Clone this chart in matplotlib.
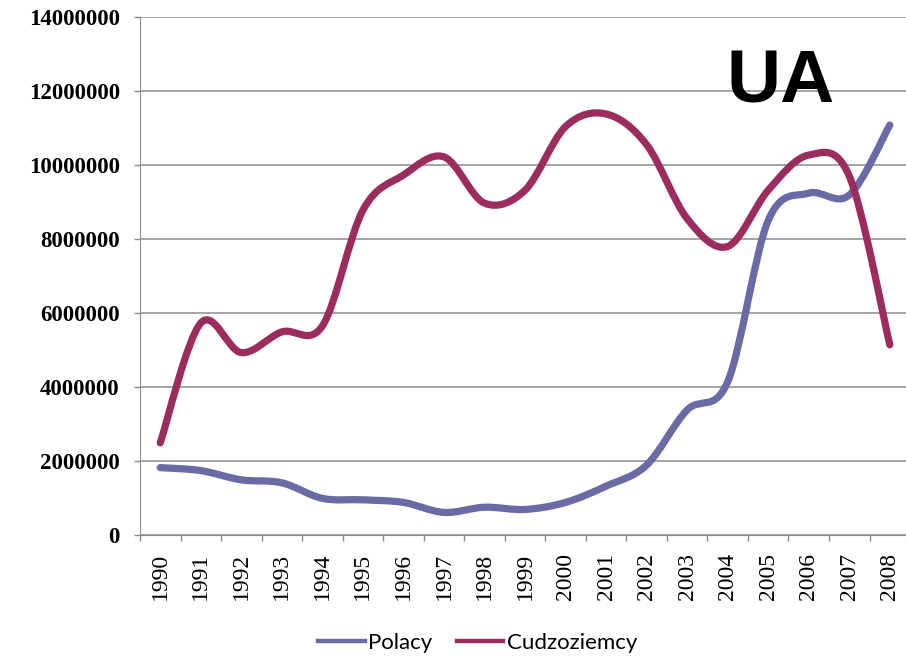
import numpy as np
import matplotlib
matplotlib.use('Agg')
import matplotlib.pyplot as plt
from matplotlib.path import Path
from matplotlib.patches import PathPatch
from matplotlib.lines import Line2D

# Yearly counts, Polish vs foreign citizens
years = ['1990', '1991', '1992', '1993', '1994', '1995', '1996', '1997', '1998', '1999',
         '2000', '2001', '2002', '2003', '2004', '2005', '2006', '2007', '2008']
polacy = [1820000, 1740000, 1490000, 1410000, 990000, 950000, 880000, 610000, 750000, 690000,
          880000, 1320000, 1890000, 3380000, 4140000, 8500000, 9240000, 9190000, 11080000]
cudzoziemcy = [2490000, 5730000, 4930000, 5490000, 5650000, 8780000, 9730000, 10220000, 8970000, 9320000,
               11040000, 11380000, 10550000, 8550000, 7800000, 9320000, 10270000, 9700000, 5140000]

col_pl = '#6a6aa6'
col_cu = '#9c2c5e'


def smooth_path(x, y):
    # Catmull-Rom style cubic Bezier through every point (like Excel "smoothed line")
    x = np.asarray(x, float)
    y = np.asarray(y, float)
    n = len(x)
    verts = [(x[0], y[0])]
    codes = [Path.MOVETO]
    for i in range(n - 1):
        i0 = max(i - 1, 0)
        i3 = min(i + 2, n - 1)
        c1 = (x[i] + (x[i + 1] - x[i0]) / 6, y[i] + (y[i + 1] - y[i0]) / 6)
        c2 = (x[i + 1] - (x[i3] - x[i]) / 6, y[i + 1] - (y[i3] - y[i]) / 6)
        verts += [c1, c2, (x[i + 1], y[i + 1])]
        codes += [Path.CURVE4] * 3
    return Path(verts, codes)


fig = plt.figure(figsize=(9.06, 6.56), dpi=100)
ax = fig.add_axes([0.1545, 0.1845, 0.85, 0.7895])

xs = np.arange(len(years))
for vals, c in [(polacy, col_pl), (cudzoziemcy, col_cu)]:
    ax.add_patch(PathPatch(smooth_path(xs, vals), fill=False, edgecolor=c,
                           lw=5.2, capstyle='round', joinstyle='round', zorder=3))

ax.set_xlim(-0.5, len(years) - 0.5)
ax.set_ylim(0, 14000000)
ax.set_yticks(np.arange(0, 14000001, 2000000))
ax.set_yticklabels([str(v) for v in range(0, 14000001, 2000000)],
                   fontfamily='Liberation Serif', fontweight='bold', fontsize=16.5)
ax.set_xticks(np.arange(-0.5, len(years), 1.0))
ax.set_xticklabels([])
ax.set_xticks(xs, minor=True)
ax.set_xticklabels(years, minor=True, rotation=90, fontfamily='Liberation Serif', fontsize=17)
ax.tick_params(axis='x', which='minor', length=0, pad=13)
ax.tick_params(axis='x', which='major', length=4.5, color='#888888', width=1)
ax.tick_params(axis='y', length=4.5, color='#888888', width=1, pad=10)

ax.grid(axis='y', color='#8c8c8c', lw=1.1)
ax.set_axisbelow(True)
for s in ['top', 'right']:
    ax.spines[s].set_visible(False)
ax.spines['left'].set_color('#8c8c8c')
ax.spines['bottom'].set_color('#8c8c8c')

ax.text(0.832, 0.872, 'UA', transform=ax.transAxes, fontsize=54, fontweight='bold',
        fontfamily='Liberation Sans', ha='center', va='center')

handles = [Line2D([], [], color=col_pl, lw=3.2), Line2D([], [], color=col_cu, lw=3.2)]
fig.legend(handles, ['Polacy', 'Cudzoziemcy'], loc='center', bbox_to_anchor=(0.527, 0.02),
           ncol=2, frameon=False, prop={'family': 'Lato', 'size': 16},
           handlelength=2.1, handletextpad=0.15, columnspacing=1.1)

fig.savefig('out.png', dpi=100, facecolor='white')
